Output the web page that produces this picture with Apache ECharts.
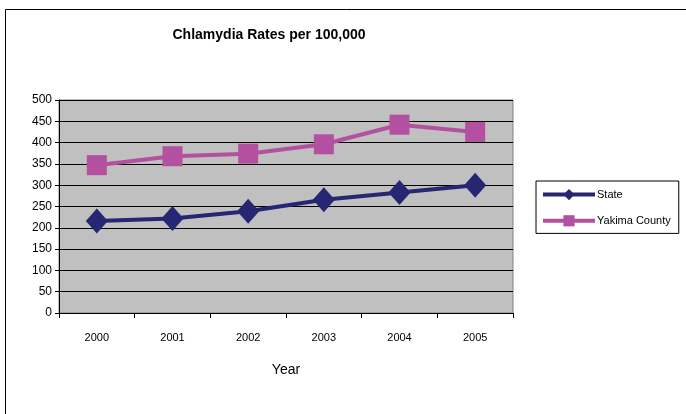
<!DOCTYPE html>
<html>
<head>
<meta charset="utf-8">
<script src="https://cdn.jsdelivr.net/npm/echarts@6/dist/echarts.min.js"></script>
<style>html,body{margin:0;padding:0;background:#fff}#c{width:686px;height:414px}</style>
</head>
<body>
<div id="c"></div>
<script>
var years = ['2000', '2001', '2002', '2003', '2004', '2005'];
var stateRates = [216, 222, 239, 266, 283, 300];
var yakimaRates = [347, 368, 374, 396, 442, 425];
var seriesNames = ['State', 'Yakima County'];
var titleText = 'Chlamydia Rates per 100,000';
var xAxisName = 'Year';

var chart = echarts.init(document.getElementById('c'), null, {renderer: 'canvas'});
chart.setOption({
  animation: false,
  backgroundColor: '#fff',
  textStyle: {fontFamily: 'Liberation Sans, Arial, sans-serif'},
  graphic: [{
    type: 'rect', z: -10, silent: true,
    shape: {x: 5.5, y: 9.5, width: 720, height: 440},
    style: {fill: 'none', stroke: '#000', lineWidth: 1}
  }],
  title: {
    text: titleText,
    left: 264, top: 23, textAlign: 'center',
    textStyle: {fontSize: 14, fontWeight: 'bold', color: '#000', fontFamily: 'Liberation Sans, Arial, sans-serif'}
  },
  legend: {
    orient: 'vertical',
    left: 536, top: 181,
    width: 142,
    padding: [8, 8, 7, 5],
    itemWidth: 52, itemHeight: 14, itemGap: 15,
    borderColor: '#000', borderWidth: 1,
    lineStyle: {width: 4},
    textStyle: {fontSize: 11, color: '#000', padding: [0, 0, 0, -3]},
    data: seriesNames
  },
  grid: {left: 59, right: 173, top: 100, bottom: 101, show: true, backgroundColor: '#C0C0C0', borderColor: '#808080', borderWidth: 1},
  xAxis: {
    type: 'category', data: years, boundaryGap: true,
    name: xAxisName, nameLocation: 'middle', nameGap: 50,
    nameTextStyle: {fontSize: 14, color: '#000'},
    axisLine: {lineStyle: {color: '#000', width: 1}},
    axisTick: {show: true, length: 5, lineStyle: {color: '#000'}},
    axisLabel: {fontSize: 11, color: '#000', margin: 19},
    splitLine: {show: false}
  },
  yAxis: {
    type: 'value', min: 0, max: 500, interval: 50,
    axisLine: {show: true, lineStyle: {color: '#000', width: 1}},
    axisTick: {show: true, length: 4, lineStyle: {color: '#000'}},
    axisLabel: {fontSize: 12, color: '#000', margin: 7},
    splitLine: {show: true, lineStyle: {color: '#000', width: 1}}
  },
  series: [{
    name: seriesNames[0], type: 'line', data: stateRates,
    symbol: 'diamond', symbolSize: [22, 25],
    lineStyle: {color: '#262673', width: 4},
    itemStyle: {color: '#262673'}
  }, {
    name: seriesNames[1], type: 'line', data: yakimaRates,
    symbol: 'rect', symbolSize: [20, 20],
    lineStyle: {color: '#B450A0', width: 4},
    itemStyle: {color: '#B450A0'}
  }]
});
</script>
</body>
</html>
